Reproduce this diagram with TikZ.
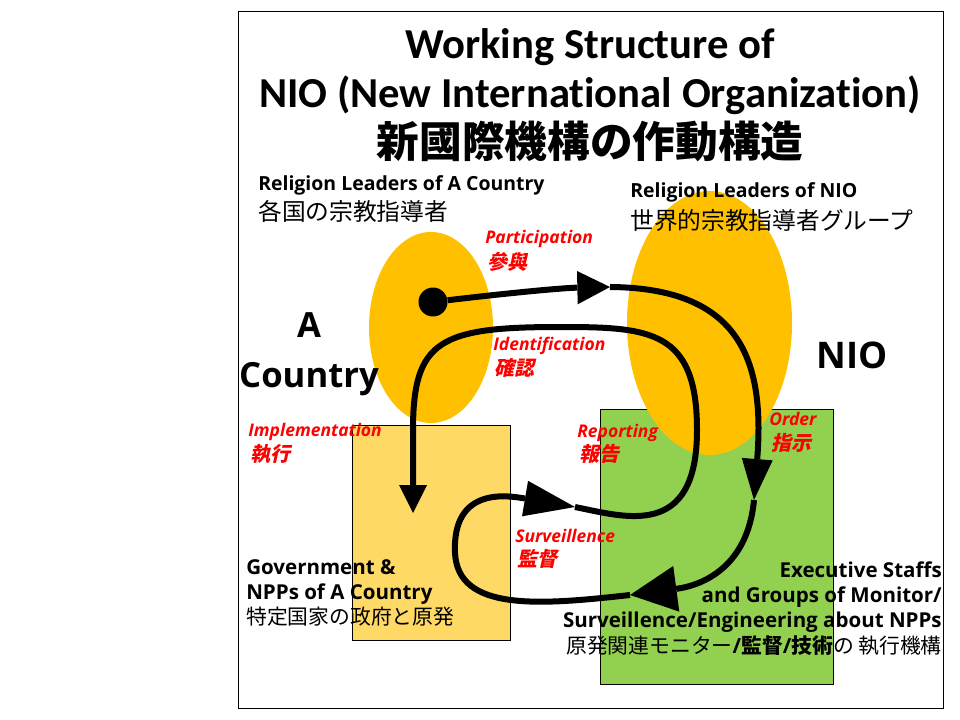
\documentclass[tikz,border=0pt]{standalone}
\usepackage{fontspec}
\setmainfont{Open Sans}
\newfontfamily\titlefont{Carlito}[Ligatures=NoCommon]
\newfontfamily\jp{Noto Sans CJK JP}
\newfontfamily\jpsl{Noto Sans CJK JP}[FakeSlant=0.22]
\usetikzlibrary{arrows.meta,shapes.geometric}
\definecolor{ellc}{HTML}{FFC000}
\definecolor{govc}{HTML}{FFD966}
\definecolor{exc}{HTML}{92D050}
\definecolor{lbl}{HTML}{FF0000}
\begin{document}
\begin{tikzpicture}[x=0.75pt,y=-0.75pt,
  flow/.style={line width=4.5pt, draw=black},
  box/.style={draw=black, line width=0.75pt, inner sep=0pt},
  blob/.style={ellipse, fill=ellc, inner sep=0pt},
  ttl/.style={inner sep=0pt, anchor=base, font=\fontsize{32}{38}\selectfont\titlefont\bfseries},
  ttljp/.style={inner sep=0pt, anchor=base, font=\fontsize{32}{38}\selectfont\jp\bfseries},
  blk/.style={inner sep=0pt, anchor=base west, font=\fontsize{14.6}{17}\selectfont\bfseries},
  blkjp/.style={inner sep=0pt, anchor=base west, font=\fontsize{17.8}{20}\selectfont\jp},
  big/.style={inner sep=0pt, anchor=base, font=\fontsize{26}{30}\selectfont\bfseries},
  redlat/.style={inner sep=0pt, anchor=base west, text=lbl, font=\fontsize{13.1}{15}\selectfont\bfseries\itshape},
  redjp/.style={inner sep=0pt, anchor=base west, text=lbl, font=\fontsize{15}{18}\selectfont\jpsl\bfseries},
  low/.style={inner sep=0pt, font=\fontsize{15.4}{18}\selectfont\bfseries},
  lowjp/.style={inner sep=0pt, font=\fontsize{15.6}{18}\selectfont\jp}
]
\useasboundingbox (0,0) rectangle (960,720);
\fill[white] (0,0) rectangle (960,720);
\draw[line width=0.75pt] (238,12) rectangle (943,708);

% shapes
\node[box, fill=exc, minimum width=174.75pt, minimum height=206.25pt] (execbox) at (716.5,546.5) {};
\node[blob, minimum width=123.75pt, minimum height=198pt] (nioell) at (709.5,323) {};
\node[box, fill=govc, minimum width=118.5pt, minimum height=161.25pt] (govbox) at (431,532.5) {};
\node[blob, minimum width=93pt, minimum height=143.25pt] (aell) at (431,327.5) {};

% free ends of connectors
\coordinate (ptip) at (610,287);
\coordinate (otip) at (754,500);
\coordinate (gtip) at (630,595);
\coordinate (lwest) at (455,553);
\coordinate (stip) at (575,507);
\coordinate (rright) at (697,430);
\coordinate (itop) at (560,327);
\coordinate (ivert) at (413,430);
\coordinate (imtip) at (413,513);

\node[circle, fill=black, minimum size=21.75pt, inner sep=0pt] (dot) at (433,302) {};

% connectors
\draw[flow, -{Triangle[length=24.5pt,width=25pt,line width=0pt]}]
  (dot) .. controls (500,294) and (560,288) .. (ptip);
\draw[flow, -{Triangle[length=30.75pt,width=23.25pt,line width=0pt]}]
  (ptip) .. controls (740,288) and (765,360) .. (otip);
\draw[flow, -{Triangle[length=35pt,width=34.5pt,line width=0pt]}]
  (otip) .. controls (748,565) and (705,585) .. (gtip);
\draw[flow, -{Triangle[length=38pt,width=27pt,line width=0pt]}]
  (gtip) .. controls (540,605) and (458,612) .. (lwest)
         .. controls (452,485) and (510,496) .. (stip);
\draw[flow, -{Triangle[length=21pt,width=21pt,line width=0pt]}]
  (stip) .. controls (625,517) and (697,540) .. (rright)
         .. controls (697,330) and (650,327) .. (itop)
         .. controls (440,327) and (413,340) .. (ivert) -- (imtip);

% title
\node[ttl] (t1) at (590,59) {Working Structure of};
\node[ttl] (t2) at (590,108) {NIO (New International Organization)};
\node[ttljp] (t3) at (590,158) {新國際機構の作動構造};

% labels
\node[blk] (rla) at (258,191) {Religion Leaders of A Country};
\node[blkjp] (rlajp) at (258,221) {各国の宗教指導者};
\node[blk] (rln) at (630,198) {Religion Leaders of NIO};
\node[blkjp] (rlnjp) at (630,229.5) {世界的宗教指導者グループ};

\node[big] (acA) at (309,337) {A};
\node[big] (acC) at (309,387) {Country};
\node[big, font=\fontsize{27.5}{30}\selectfont\bfseries] (nio) at (852.5,368) {NIO};

\node[redlat] (lpar) at (485,243.3) {Participation};
\node[redjp] (lparjp) at (487,269.5) {參與};
\node[redlat] (lid) at (493,350.7) {Identification};
\node[redjp] (lidjp) at (494,375) {確認};
\node[redlat] (limp) at (248,436) {Implementation};
\node[redjp] (limpjp) at (250,461) {執行};
\node[redlat] (lrep) at (577,437) {Reporting};
\node[redjp] (lrepjp) at (579,461) {報告};
\node[redlat] (lord) at (769,425) {Order};
\node[redjp] (lordjp) at (771,450) {指示};
\node[redlat] (lsur) at (515,542) {Surveillence};
\node[redjp] (lsurjp) at (517,566) {監督};

\node[low, anchor=base west] (g1) at (246,574) {Government \&};
\node[low, anchor=base west] (g2) at (246,599.3) {NPPs of A Country};
\node[lowjp, anchor=base west] (g3) at (246,624) {特定国家の政府と原発};

\node[low, anchor=base east] (e1) at (942,577) {Executive Staffs};
\node[low, anchor=base east] (e2) at (942,602) {and Groups of Monitor/};
\node[low, anchor=base east] (e3) at (942,627) {Surveillence/Engineering about NPPs};
\node[lowjp, anchor=base east] (e4) at (942,653) {原発関連モニター{\rmfamily\bfseries/}{\bfseries 監督}{\rmfamily\bfseries/}{\bfseries 技術}の 執行機構};
\end{tikzpicture}
\end{document}
